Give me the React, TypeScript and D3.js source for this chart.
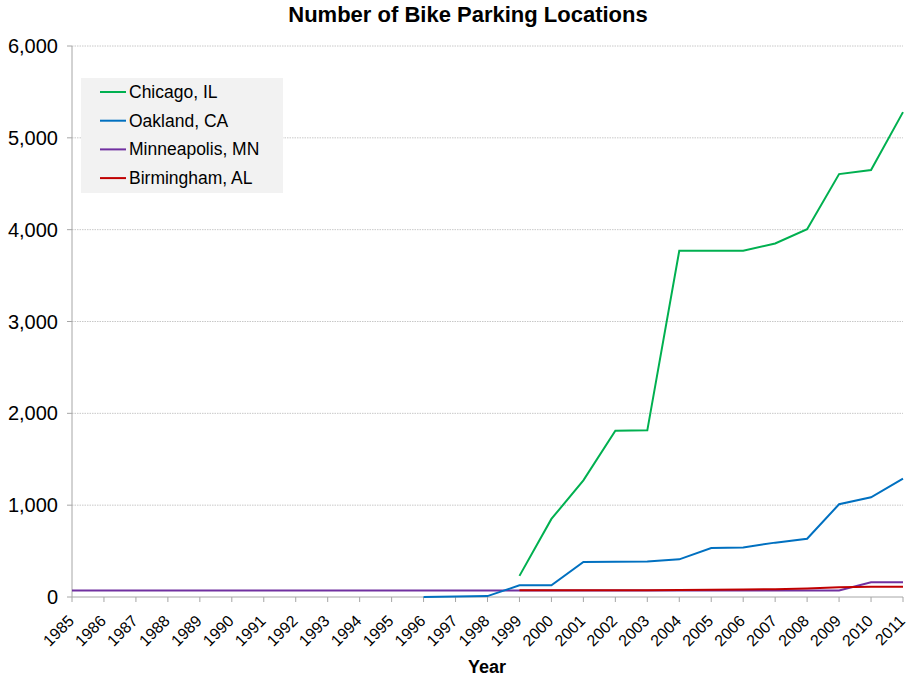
import * as d3 from "d3";
import React from "react";

const years = d3.range(1985, 2012);
const yTicks = [0, 1000, 2000, 3000, 4000, 5000, 6000];

// null = no data for that year
const chicago: (number | null)[] = [
  ...Array(14).fill(null),
  230, 850, 1270, 1810, 1815, 3770, 3770, 3770, 3850, 4005, 4605, 4650, 5280,
];
const oakland: (number | null)[] = [
  ...Array(11).fill(null),
  0, 5, 10, 127, 127, 381, 384, 386, 410, 534, 540, 592, 635, 1010, 1086, 1290,
];
const minneapolis: (number | null)[] = [
  70, 70, 70, 70, 70, 70, 70, 70, 70, 70, 70, 70, 70, 70, 70, 70, 70, 70, 70, 70, 70, 70, 70, 70, 70, 160, 160,
];
const birmingham: (number | null)[] = [
  ...Array(14).fill(null),
  73, 73, 73, 73, 73, 75, 78, 82, 85, 92, 105, 112, 112,
];

const seriesNames = ["Chicago, IL", "Oakland, CA", "Minneapolis, MN", "Birmingham, AL"];
const seriesColors = ["#00b050", "#0070c0", "#7030a0", "#c00000"];
const seriesValues = [chicago, oakland, minneapolis, birmingham];

const W = 909;
const H = 677;
const margin = { top: 46, right: 6, bottom: 80, left: 72 };
const font = "'Liberation Sans', Arial, sans-serif";

const App: React.FC = () => {
  const x = d3.scaleLinear().domain([1985, 2011]).range([margin.left, W - margin.right]);
  const y = d3.scaleLinear().domain([0, 6000]).range([H - margin.bottom, margin.top]);

  const line = d3
    .line<number | null>()
    .defined((d) => d !== null)
    .x((_, i) => x(years[i]))
    .y((d) => y(d as number));

  const fmt = d3.format(",");
  const drawOrder = [2, 3, 1, 0];

  return (
    <svg width={W} height={H} style={{ position: "absolute", left: 0, top: 0 }} fontFamily={font}>
      <rect width={W} height={H} fill="#fff" />
      <text x={468} y={21.5} textAnchor="middle" fontSize={22} fontWeight="bold">
        Number of Bike Parking Locations
      </text>

      {/* gridlines */}
      {yTicks.filter((t) => t > 0).map((t) => (
        <line
          key={t}
          x1={x(1985)}
          x2={x(2011)}
          y1={y(t)}
          y2={y(t)}
          stroke="#c8c8c8"
          strokeDasharray="1.5,1"
        />
      ))}

      {/* y axis */}
      <line x1={x(1985)} x2={x(1985)} y1={y(0)} y2={y(6000)} stroke="#a6a6a6" />
      {yTicks.map((t) => (
        <g key={t}>
          <line x1={x(1985) - 5} x2={x(1985)} y1={y(t)} y2={y(t)} stroke="#a6a6a6" />
          <text x={58} y={y(t) + 7} textAnchor="end" fontSize={20}>
            {fmt(t)}
          </text>
        </g>
      ))}

      {/* x axis */}
      <line x1={x(1985)} x2={x(2011)} y1={y(0)} y2={y(0)} stroke="#a6a6a6" />
      {years.map((yr) => (
        <g key={yr}>
          <line x1={x(yr)} x2={x(yr)} y1={y(0)} y2={y(0) + 5} stroke="#a6a6a6" />
          <text
            transform={`translate(${x(yr) - 1},${y(0) + 21}) rotate(-45)`}
            textAnchor="end"
            dy="0.35em"
            fontSize={16}
          >
            {yr}
          </text>
        </g>
      ))}
      <text x={487} y={673} textAnchor="middle" fontSize={18} fontWeight="bold">
        Year
      </text>

      {/* lines */}
      {drawOrder.map((i) => (
        <path
          key={seriesNames[i]}
          d={line(seriesValues[i]) || ""}
          fill="none"
          stroke={seriesColors[i]}
          strokeWidth={2}
        />
      ))}

      {/* legend */}
      <rect x={81} y={78} width={202} height={115} fill="#f2f2f2" />
      {seriesNames.map((name, i) => {
        const cy = 92 + i * 28.7;
        return (
          <g key={name}>
            <line x1={100} x2={126} y1={cy} y2={cy} stroke={seriesColors[i]} strokeWidth={2} />
            <text x={129} y={cy + 6} fontSize={17.5}>
              {name}
            </text>
          </g>
        );
      })}
    </svg>
  );
};

export default App;
